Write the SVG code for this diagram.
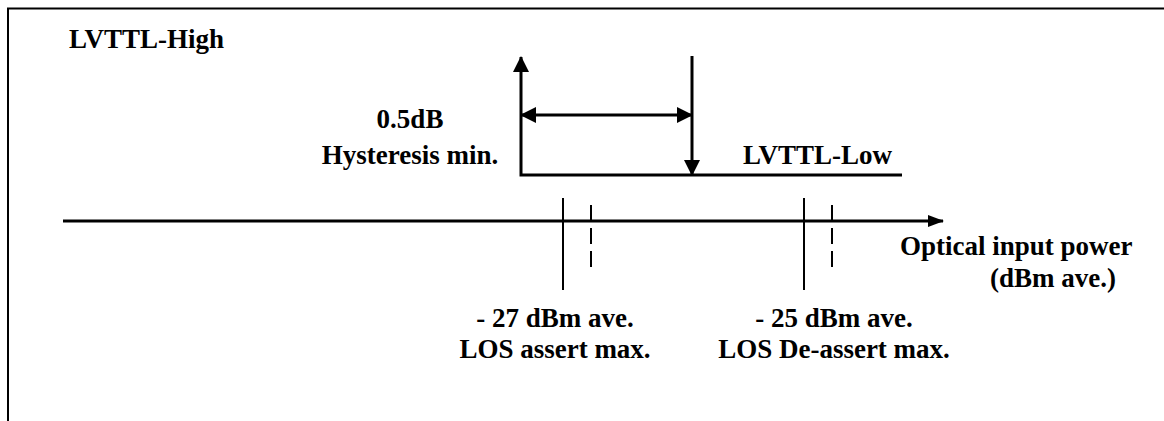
<svg xmlns="http://www.w3.org/2000/svg" width="1164" height="421" viewBox="0 0 1164 421">
<style>
.t{font-family:"Liberation Serif","Times New Roman",serif;font-weight:bold;font-size:27px;fill:#000}
.ln{stroke:#000;fill:none;stroke-width:3}
.tk{stroke:#000;fill:none;stroke-width:2}
.ds{stroke:#000;fill:none;stroke-width:2;stroke-dasharray:16 7}
</style>
<defs>
<marker id="ah" markerUnits="userSpaceOnUse" markerWidth="16" markerHeight="16" refX="15" refY="8" orient="auto-start-reverse" viewBox="0 0 16 16">
<path d="M0,0 L16,8 L0,16 z" fill="#000"/>
</marker>
<marker id="ax" markerUnits="userSpaceOnUse" markerWidth="16" markerHeight="12" refX="15" refY="6" orient="auto" viewBox="0 0 16 12">
<path d="M0,0 L16,6 L0,12 z" fill="#000"/>
</marker>
</defs>
<rect width="1164" height="421" fill="#fff"/>
<g id="frame">
<path class="tk" d="M8,421 V8.5 H1164" stroke-width="2.5"/>
</g>
<g id="connectors">
<path class="ln" d="M902,175 H521 V57" marker-end="url(#ah)"/>
<line class="ln" x1="692" y1="56" x2="692" y2="175" marker-end="url(#ah)"/>
<line class="ln" x1="521" y1="115" x2="692" y2="115" stroke-width="2.5" marker-start="url(#ah)" marker-end="url(#ah)"/>
<line class="ln" x1="63" y1="221" x2="943" y2="221" marker-end="url(#ax)"/>
<line class="tk" x1="563" y1="198" x2="563" y2="290"/>
<line class="ds" x1="591" y1="205" x2="591" y2="268"/>
<line class="tk" x1="804" y1="198" x2="804" y2="290"/>
<line class="ds" x1="832" y1="205" x2="832" y2="268"/>
</g>
<g id="lvttl-high"><text class="t" x="69" y="48">LVTTL-High</text></g>
<g id="hysteresis">
<text class="t" x="410" y="128" text-anchor="middle">0.5dB</text>
<text class="t" x="410" y="164" text-anchor="middle">Hysteresis min.</text>
</g>
<g id="lvttl-low"><text class="t" x="743" y="164">LVTTL-Low</text></g>
<g id="axis-label">
<text class="t" x="900" y="255">Optical input power</text>
<text class="t" x="990" y="287">(dBm ave.)</text>
</g>
<g id="los-assert">
<text class="t" x="555" y="327" text-anchor="middle">- 27 dBm ave.</text>
<text class="t" x="555" y="358" text-anchor="middle">LOS assert max.</text>
</g>
<g id="los-deassert">
<text class="t" x="834" y="327" text-anchor="middle">- 25 dBm ave.</text>
<text class="t" x="834" y="358" text-anchor="middle">LOS De-assert max.</text>
</g>
</svg>
